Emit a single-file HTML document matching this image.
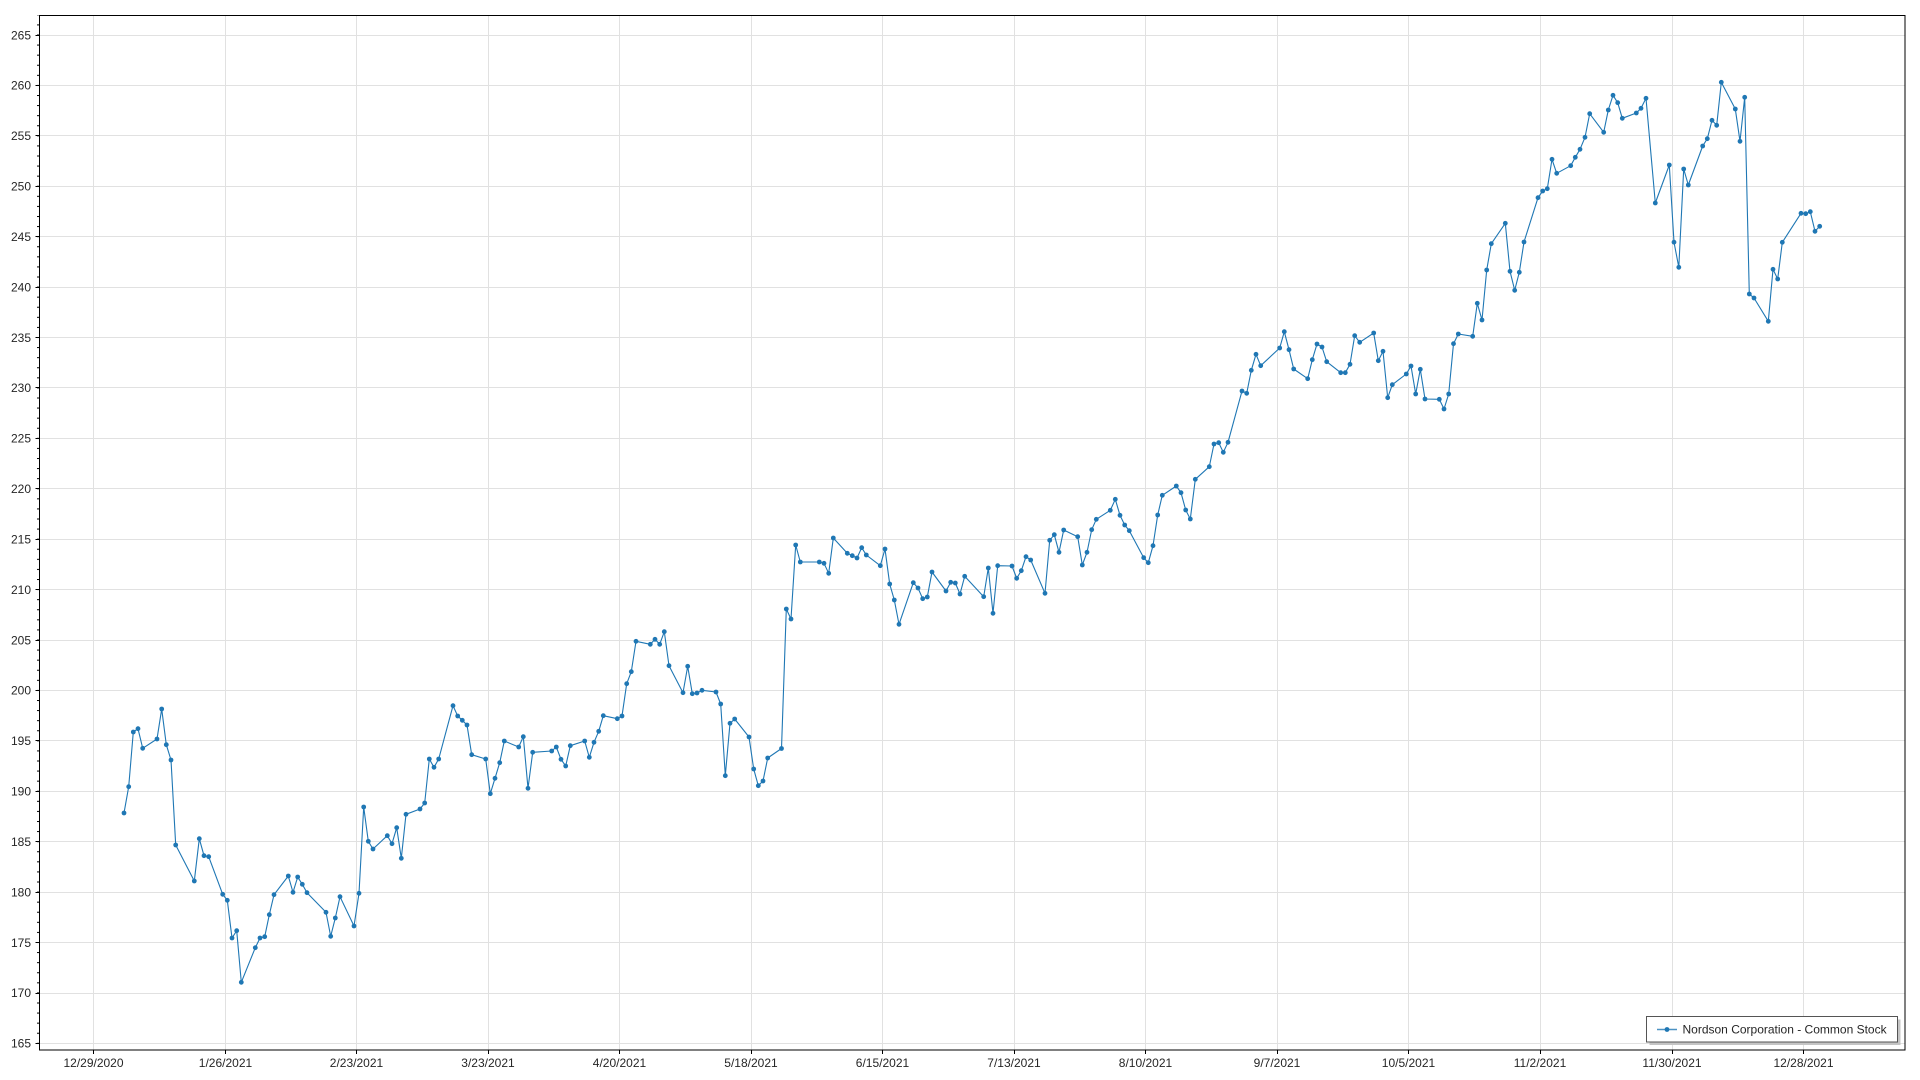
<!DOCTYPE html>
<html>
<head>
<meta charset="utf-8">
<style>
  html, body { margin: 0; padding: 0; background: #ffffff; }
  body { width: 1920px; height: 1080px; overflow: hidden; }
  svg { display: block; }
  text { font-family: "Liberation Sans", "DejaVu Sans", sans-serif; font-size: 12px; fill: #262626; }
</style>
</head>
<body>
<svg width="1920" height="1080" viewBox="0 0 1920 1080" xmlns="http://www.w3.org/2000/svg">
  <defs>
    <marker id="dot" markerWidth="6" markerHeight="6" refX="3" refY="3" markerUnits="userSpaceOnUse">
      <circle cx="3" cy="3" r="2.4" fill="#1f77b4"/>
    </marker>
    <pattern id="minor" x="0" y="34.5" width="4" height="10.0833" patternUnits="userSpaceOnUse">
      <rect x="0" y="0" width="4" height="1" fill="#000"/>
    </pattern>
  </defs>

  <rect x="0" y="0" width="1920" height="1080" fill="#fff"/>

  <!-- horizontal gridlines -->
  <g stroke="#e1e1e1" stroke-width="1" shape-rendering="crispEdges">
    <line x1="40" x2="1905" y1="35.5" y2="35.5"/>
    <line x1="40" x2="1905" y1="85.5" y2="85.5"/>
    <line x1="40" x2="1905" y1="135.5" y2="135.5"/>
    <line x1="40" x2="1905" y1="186.5" y2="186.5"/>
    <line x1="40" x2="1905" y1="236.5" y2="236.5"/>
    <line x1="40" x2="1905" y1="287.5" y2="287.5"/>
    <line x1="40" x2="1905" y1="337.5" y2="337.5"/>
    <line x1="40" x2="1905" y1="387.5" y2="387.5"/>
    <line x1="40" x2="1905" y1="438.5" y2="438.5"/>
    <line x1="40" x2="1905" y1="488.5" y2="488.5"/>
    <line x1="40" x2="1905" y1="539.5" y2="539.5"/>
    <line x1="40" x2="1905" y1="589.5" y2="589.5"/>
    <line x1="40" x2="1905" y1="640.5" y2="640.5"/>
    <line x1="40" x2="1905" y1="690.5" y2="690.5"/>
    <line x1="40" x2="1905" y1="740.5" y2="740.5"/>
    <line x1="40" x2="1905" y1="791.5" y2="791.5"/>
    <line x1="40" x2="1905" y1="841.5" y2="841.5"/>
    <line x1="40" x2="1905" y1="892.5" y2="892.5"/>
    <line x1="40" x2="1905" y1="942.5" y2="942.5"/>
    <line x1="40" x2="1905" y1="993.5" y2="993.5"/>
    <line x1="40" x2="1905" y1="1043.5" y2="1043.5"/>
  </g>

  <!-- vertical gridlines -->
  <g stroke="#e1e1e1" stroke-width="1" shape-rendering="crispEdges">
    <line y1="15" y2="1050" x1="93.5" x2="93.5"/>
    <line y1="15" y2="1050" x1="225.5" x2="225.5"/>
    <line y1="15" y2="1050" x1="356.5" x2="356.5"/>
    <line y1="15" y2="1050" x1="488.5" x2="488.5"/>
    <line y1="15" y2="1050" x1="619.5" x2="619.5"/>
    <line y1="15" y2="1050" x1="751.5" x2="751.5"/>
    <line y1="15" y2="1050" x1="882.5" x2="882.5"/>
    <line y1="15" y2="1050" x1="1014.5" x2="1014.5"/>
    <line y1="15" y2="1050" x1="1145.5" x2="1145.5"/>
    <line y1="15" y2="1050" x1="1277.5" x2="1277.5"/>
    <line y1="15" y2="1050" x1="1408.5" x2="1408.5"/>
    <line y1="15" y2="1050" x1="1540.5" x2="1540.5"/>
    <line y1="15" y2="1050" x1="1672.5" x2="1672.5"/>
    <line y1="15" y2="1050" x1="1803.5" x2="1803.5"/>
  </g>

  <!-- data series -->
  <polyline fill="none" stroke="#1f77b4" stroke-width="1.1" stroke-linejoin="round"
    marker-start="url(#dot)" marker-mid="url(#dot)" marker-end="url(#dot)"
    points="124,813 128.7,786.7 133.3,732 138,728.7 142.7,748.3 157,739 161.7,709 166.3,744.7 171,760 175.7,845 194.3,881 199.3,838.7 204,855.7 208.7,856.7 222.7,894.3 227.3,900.3 232,938 236.7,930.7 241.3,982.3 255.3,947.7 260,938 264.7,936.7 269.3,914.7 274,894.7 288.3,876 293,892.3 297.7,877 302.3,884.3 307,892.7 326,912.3 330.7,936.3 335.3,918 340,896.7 354,926 359,893.3 363.7,807 368.3,841.3 373,849 387.3,835.7 392,843.7 396.7,827.7 401.3,858.3 406,814.3 420,809 424.7,803 429.3,759 434,767.3 438.7,759 453,705.7 457.7,716 462.3,720.3 467,725 471.7,754.7 485.7,759 490.3,793.7 495,778.3 499.7,762.7 504.3,741 518.7,747 523.3,736.7 528,788.3 532.7,752.3 551.7,751 556.3,747 561,759.3 565.7,766 570.3,745.7 584.7,741 589.3,757.3 594,742.3 598.7,731.3 603.3,715.7 617.3,718.7 622,716 626.7,683.7 631.3,671.7 636,641.3 650.3,644.3 655,639.3 659.7,644.3 664.3,631.7 669,665.7 683,692.7 687.7,666.3 692.3,693.7 697,693 702,690.3 716,692 720.7,704 725.3,775.7 730,723.3 734.7,719 749,737 753.7,769 758.3,785.7 763,781 767.7,758 781.5,748.5 786.3,609 791,619 795.7,545 800.3,562 819.3,562 824,563.3 828.7,573.3 833.3,538 847.3,553.3 852.3,555.7 857,558 861.7,547.7 866.3,555 880.3,565.7 885,549 889.7,584 894.3,600 899,624.3 913.3,582.7 918,588 922.7,598.7 927.3,597 932,572 946,591 950.7,582.3 955.3,583 960,594 964.7,576.3 983.7,596.7 988.3,568 993,613.3 997.7,565.7 1012,566 1016.7,578.3 1021.3,570.7 1026,556.7 1030.7,560 1045,593.3 1049.7,540.3 1054.3,534.7 1059,552.3 1063.7,530 1077.7,536.7 1082.3,565 1087,552.3 1091.7,529.7 1096.3,519.3 1110.3,510.3 1115.3,499.3 1120,515.3 1124.7,525 1129.3,530.7 1143.7,557.7 1148.3,562.7 1153,545.7 1157.7,515 1162.3,495.3 1176.3,486 1181,492.7 1185.7,510 1190.3,519 1195.3,479.3 1209.3,466.7 1214,444 1218.7,442.7 1223.3,452.3 1228,442.3 1242,391 1246.7,393.3 1251.3,370.3 1256,354.3 1260.7,365.7 1279.7,348 1284.3,331.7 1289,349.7 1293.7,369 1307.7,378.7 1312.3,359.7 1317,344 1322,347 1326.7,361.7 1340.7,372.7 1345.3,372.7 1350,364.3 1354.7,335.7 1359.7,342.3 1373.7,333 1378.3,360.7 1383,351.3 1387.7,397.7 1392.3,384.7 1406.3,374 1411,366 1415.7,394 1420.3,369.3 1425,399 1439.3,399.3 1444,409 1448.7,394 1453.5,343.7 1458.3,334 1472.7,336.3 1477.3,303.3 1482,320 1486.7,270 1491.3,243.7 1505.3,223.3 1510,271.3 1514.7,290.3 1519.3,272.3 1524,242 1538,197.7 1542.7,191 1547.3,188.7 1552,159.3 1556.7,173.3 1570.7,165.7 1575.3,157.3 1580,149.3 1585,137.3 1589.7,113.7 1603.7,132.3 1608.3,110 1613,95.3 1617.7,102.7 1622.3,118.3 1636.3,113 1641,108.3 1646,98.3 1655.3,203 1669.3,165 1674,242.2 1678.8,267.3 1683.7,169 1688.3,185 1702.7,146 1707.3,138.7 1712,120.3 1716.7,125.3 1721.3,82.3 1735.3,109 1740,141.3 1744.7,97.3 1749.3,294 1754,298 1768.3,321.3 1773,269.3 1777.7,279 1782.3,242.3 1801,213.3 1805.7,213.7 1810.3,211.7 1815,231.3 1819.7,226.3"/>

  <!-- frame -->
  <rect x="39.5" y="15.5" width="1865.5" height="1034.5" fill="none" stroke="#000" stroke-width="1" shape-rendering="crispEdges"/>

  <!-- y minor ticks -->
  <rect x="37" y="15" width="2.5" height="1035" fill="url(#minor)" shape-rendering="crispEdges"/>

  <!-- y major ticks -->
  <g stroke="#000" stroke-width="1" shape-rendering="crispEdges">
    <line x1="35.5" x2="39.5" y1="35.5" y2="35.5"/>
    <line x1="35.5" x2="39.5" y1="85.5" y2="85.5"/>
    <line x1="35.5" x2="39.5" y1="135.5" y2="135.5"/>
    <line x1="35.5" x2="39.5" y1="186.5" y2="186.5"/>
    <line x1="35.5" x2="39.5" y1="236.5" y2="236.5"/>
    <line x1="35.5" x2="39.5" y1="287.5" y2="287.5"/>
    <line x1="35.5" x2="39.5" y1="337.5" y2="337.5"/>
    <line x1="35.5" x2="39.5" y1="387.5" y2="387.5"/>
    <line x1="35.5" x2="39.5" y1="438.5" y2="438.5"/>
    <line x1="35.5" x2="39.5" y1="488.5" y2="488.5"/>
    <line x1="35.5" x2="39.5" y1="539.5" y2="539.5"/>
    <line x1="35.5" x2="39.5" y1="589.5" y2="589.5"/>
    <line x1="35.5" x2="39.5" y1="640.5" y2="640.5"/>
    <line x1="35.5" x2="39.5" y1="690.5" y2="690.5"/>
    <line x1="35.5" x2="39.5" y1="740.5" y2="740.5"/>
    <line x1="35.5" x2="39.5" y1="791.5" y2="791.5"/>
    <line x1="35.5" x2="39.5" y1="841.5" y2="841.5"/>
    <line x1="35.5" x2="39.5" y1="892.5" y2="892.5"/>
    <line x1="35.5" x2="39.5" y1="942.5" y2="942.5"/>
    <line x1="35.5" x2="39.5" y1="993.5" y2="993.5"/>
    <line x1="35.5" x2="39.5" y1="1043.5" y2="1043.5"/>
  </g>

  <!-- y labels -->
  <g text-anchor="end">
    <text x="31" y="39.5">265</text>
    <text x="31" y="89.5">260</text>
    <text x="31" y="140">255</text>
    <text x="31" y="190.5">250</text>
    <text x="31" y="241">245</text>
    <text x="31" y="291.5">240</text>
    <text x="31" y="341.8">235</text>
    <text x="31" y="392.2">230</text>
    <text x="31" y="442.6">225</text>
    <text x="31" y="493">220</text>
    <text x="31" y="543.5">215</text>
    <text x="31" y="594">210</text>
    <text x="31" y="644.3">205</text>
    <text x="31" y="694.7">200</text>
    <text x="31" y="745.1">195</text>
    <text x="31" y="795.5">190</text>
    <text x="31" y="846">185</text>
    <text x="31" y="896.4">180</text>
    <text x="31" y="946.8">175</text>
    <text x="31" y="997.2">170</text>
    <text x="31" y="1047.6">165</text>
  </g>

  <!-- x ticks -->
  <g stroke="#000" stroke-width="1" shape-rendering="crispEdges">
    <line y1="1050" y2="1054" x1="93.5" x2="93.5"/>
    <line y1="1050" y2="1054" x1="225.5" x2="225.5"/>
    <line y1="1050" y2="1054" x1="356.5" x2="356.5"/>
    <line y1="1050" y2="1054" x1="488.5" x2="488.5"/>
    <line y1="1050" y2="1054" x1="619.5" x2="619.5"/>
    <line y1="1050" y2="1054" x1="751.5" x2="751.5"/>
    <line y1="1050" y2="1054" x1="882.5" x2="882.5"/>
    <line y1="1050" y2="1054" x1="1014.5" x2="1014.5"/>
    <line y1="1050" y2="1054" x1="1145.5" x2="1145.5"/>
    <line y1="1050" y2="1054" x1="1277.5" x2="1277.5"/>
    <line y1="1050" y2="1054" x1="1408.5" x2="1408.5"/>
    <line y1="1050" y2="1054" x1="1540.5" x2="1540.5"/>
    <line y1="1050" y2="1054" x1="1672.5" x2="1672.5"/>
    <line y1="1050" y2="1054" x1="1803.5" x2="1803.5"/>
  </g>

  <!-- x labels -->
  <g text-anchor="middle">
    <text x="93.5" y="1067">12/29/2020</text>
    <text x="225.5" y="1067">1/26/2021</text>
    <text x="356.5" y="1067">2/23/2021</text>
    <text x="488" y="1067">3/23/2021</text>
    <text x="619.5" y="1067">4/20/2021</text>
    <text x="751" y="1067">5/18/2021</text>
    <text x="882.5" y="1067">6/15/2021</text>
    <text x="1014" y="1067">7/13/2021</text>
    <text x="1145.5" y="1067">8/10/2021</text>
    <text x="1277" y="1067">9/7/2021</text>
    <text x="1408.5" y="1067">10/5/2021</text>
    <text x="1540" y="1067">11/2/2021</text>
    <text x="1672" y="1067">11/30/2021</text>
    <text x="1803.5" y="1067">12/28/2021</text>
  </g>

  <!-- legend -->
  <rect x="1649.5" y="1019.5" width="251" height="25.5" fill="#c4c4c4" shape-rendering="crispEdges"/>
  <rect x="1646.5" y="1016.5" width="251" height="25.5" fill="#fff" stroke="#555" stroke-width="1" shape-rendering="crispEdges"/>
  <line x1="1657" x2="1677" y1="1029.5" y2="1029.5" stroke="#1f77b4" stroke-width="1.5" stroke-opacity="0.8"/>
  <circle cx="1667" cy="1029.5" r="2.4" fill="#1f77b4"/>
  <text x="1682.5" y="1033.5">Nordson Corporation - Common Stock</text>
</svg>
</body>
</html>
